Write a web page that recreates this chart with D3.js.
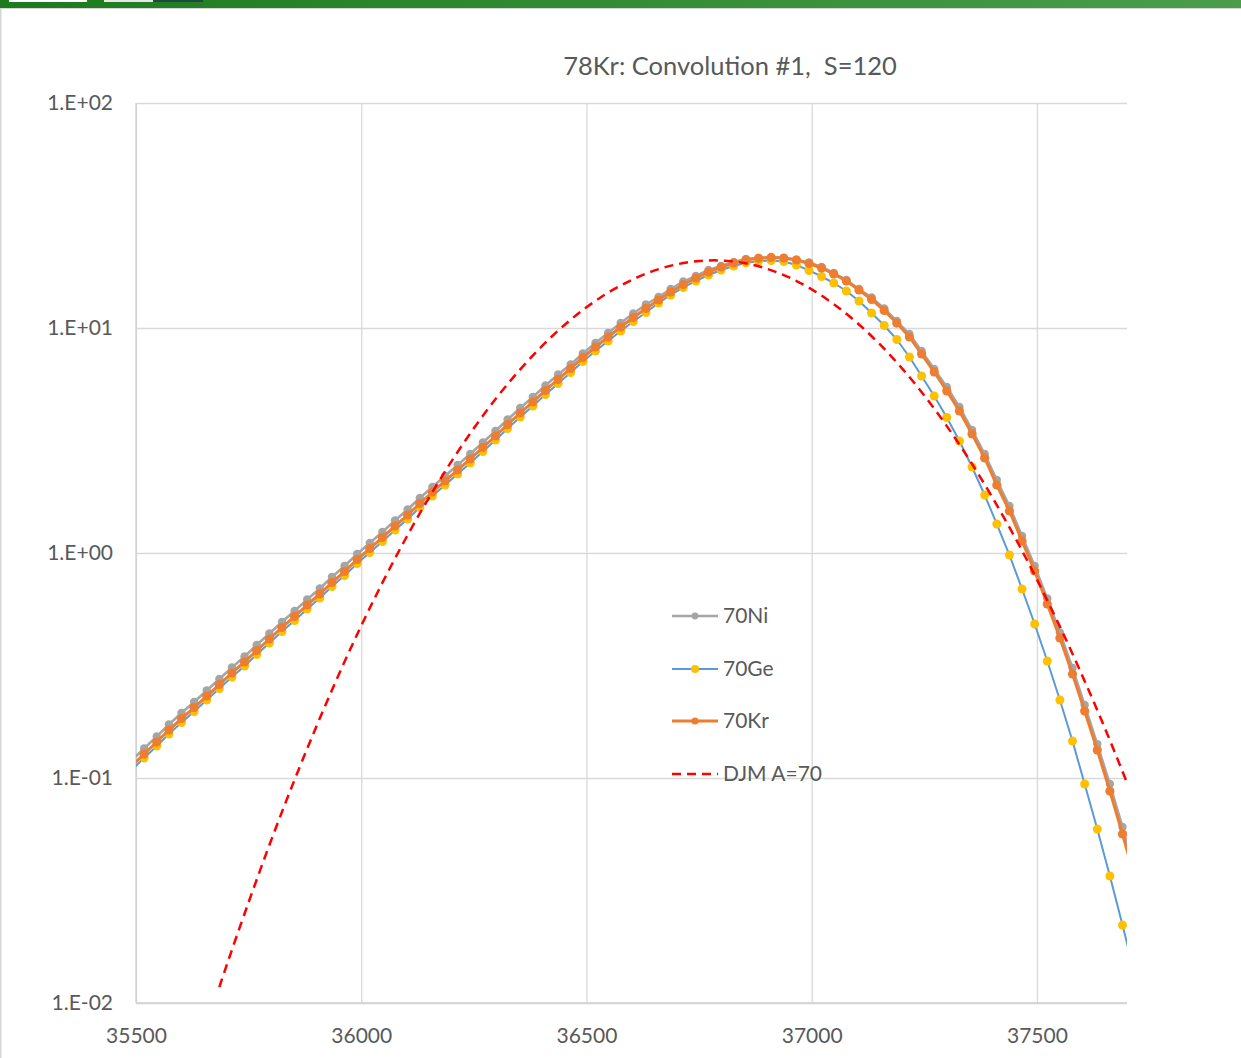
<!DOCTYPE html>
<html>
<head>
<meta charset="utf-8">
<script src="https://cdn.jsdelivr.net/npm/d3@7"></script>
<style>
  html, body { margin: 0; padding: 0; background: #ffffff; }
  svg { display: block; }
  text { font-family: Lato, "Open Sans", sans-serif; fill: #595959; }
</style>
</head>
<body>
<svg id="chart" width="1241" height="1058"></svg>
<script>
// Sampling grid (energy) shared by the three convolution series
const energies = [35490, 35518, 35546, 35573, 35601, 35629, 35657, 35685, 35713, 35741,
  35768, 35796, 35824, 35852, 35880, 35908, 35935, 35963, 35991, 36019,
  36047, 36075, 36103, 36130, 36158, 36186, 36214, 36242, 36270, 36298,
  36325, 36353, 36381, 36409, 36437, 36465, 36492, 36520, 36548, 36576,
  36604, 36632, 36660, 36687, 36715, 36743, 36771, 36799, 36827, 36854,
  36882, 36910, 36938, 36966, 36994, 37022, 37049, 37077, 37105, 37133,
  37161, 37189, 37217, 37244, 37272, 37300, 37328, 37356, 37384, 37411,
  37439, 37467, 37495, 37523, 37551, 37579, 37606, 37634, 37662, 37690,
  37718];

const ni70 = [0.1197, 0.1352, 0.1529, 0.1729, 0.1945, 0.2176, 0.2448, 0.2754, 0.3099, 0.3468,
  0.3901, 0.4388, 0.4936, 0.5525, 0.6215, 0.6954, 0.7823, 0.8754, 0.9900, 1.108,
  1.240, 1.394, 1.561, 1.756, 1.965, 2.199, 2.461, 2.754, 3.099, 3.485,
  3.921, 4.410, 4.936, 5.553, 6.214, 6.885, 7.703, 8.580, 9.503, 10.52,
  11.61, 12.72, 13.73, 14.90, 16.09, 17.03, 18.11, 18.86, 19.65, 20.27,
  20.5, 20.6, 20.5, 20.1, 19.55, 18.67, 17.56, 16.35, 14.90, 13.67,
  12.21, 10.74, 9.403, 7.901, 6.573, 5.468, 4.457, 3.523, 2.755, 2.110,
  1.618, 1.190, 0.8755, 0.6278, 0.4433, 0.3082, 0.2110, 0.1415, 0.0940, 0.0606,
  0.0386];

const ge70 = [0.1086, 0.1227, 0.1387, 0.1569, 0.1764, 0.1975, 0.2221, 0.2499, 0.2812, 0.3147,
  0.3540, 0.3981, 0.4478, 0.5013, 0.5639, 0.6310, 0.7098, 0.7943, 0.8983, 1.005,
  1.125, 1.265, 1.416, 1.594, 1.792, 2.005, 2.244, 2.512, 2.826, 3.179,
  3.576, 4.022, 4.502, 5.065, 5.668, 6.343, 7.097, 7.905, 8.755, 9.696,
  10.69, 11.72, 12.92, 14.02, 15.14, 16.18, 17.21, 18.11, 18.87, 19.46,
  19.85, 19.95, 19.75, 19.05, 18.02, 16.94, 15.85, 14.60, 13.18, 11.66,
  10.26, 8.889, 7.433, 6.119, 4.986, 4.002, 3.147, 2.411, 1.810, 1.345,
  0.9797, 0.6918, 0.4836, 0.3311, 0.2222, 0.1460, 0.0940, 0.0593, 0.0367, 0.0222,
  0.0132];

const kr70 = [0.1131, 0.1278, 0.1445, 0.1634, 0.1838, 0.2057, 0.2314, 0.2603, 0.2929, 0.3278,
  0.3687, 0.4147, 0.4665, 0.5222, 0.5874, 0.6573, 0.7394, 0.8274, 0.9357, 1.047,
  1.172, 1.318, 1.475, 1.660, 1.867, 2.089, 2.338, 2.617, 2.944, 3.311,
  3.725, 4.190, 4.690, 5.276, 5.904, 6.607, 7.393, 8.234, 9.120, 10.10,
  11.14, 12.21, 13.32, 14.45, 15.61, 16.68, 17.74, 18.67, 19.45, 20.06,
  20.41, 20.58, 20.47, 20.06, 19.35, 18.48, 17.38, 16.18, 14.75, 13.39,
  11.96, 10.52, 9.120, 7.663, 6.375, 5.248, 4.277, 3.381, 2.644, 2.005,
  1.537, 1.131, 0.8318, 0.5934, 0.4190, 0.2899, 0.1985, 0.1331, 0.0875, 0.0564,
  0.0356];

// DJM A=70 reference distribution
const djmEnergies = [35685, 35700, 35750, 35800, 35850, 35900, 35950, 36000, 36050, 36100,
  36150, 36200, 36250, 36300, 36350, 36400, 36450, 36500, 36550, 36600,
  36650, 36700, 36750, 36800, 36850, 36900, 36950, 37000, 37050, 37100,
  37150, 37200, 37250, 37300, 37350, 37400, 37450, 37500, 37550, 37600,
  37650, 37700];
const djm70 = [0.01177, 0.01448, 0.02805, 0.05285, 0.0959, 0.1687, 0.2875, 0.4747, 0.7578, 1.172,
  1.754, 2.548, 3.583, 4.885, 6.447, 8.259, 10.26, 12.36, 14.43, 16.34,
  17.98, 19.17, 19.85, 19.95, 19.45, 18.35, 16.77, 14.85, 12.73, 10.58,
  8.515, 6.635, 5.012, 3.664, 2.598, 1.781, 1.185, 0.7624, 0.4757, 0.2872,
  0.1682, 0.0953];

const xTicks = [35500, 36000, 36500, 37000, 37500];
const yTicks = [0.01, 0.1, 1, 10, 100];
const yTickLabels = ["1.E-02", "1.E-01", "1.E+00", "1.E+01", "1.E+02"];
const titleText = "78Kr: Convolution #1,  S=120";

const seriesNames = ["70Ni", "70Ge", "70Kr", "DJM A=70"];

const svg = d3.select("#chart");
const W = 1241, H = 1058;
const plot = { left: 136, right: 1127, top: 103, bottom: 1003 };

// Application frame: green ribbon strip and thin borders
const defs = svg.append("defs");
const grad = defs.append("linearGradient").attr("id", "ribbon").attr("x1", 0).attr("x2", 1);
grad.append("stop").attr("offset", "0%").attr("stop-color", "#1d7a1d");
grad.append("stop").attr("offset", "100%").attr("stop-color", "#4a9e4a");
svg.append("rect").attr("x", 0).attr("y", 0).attr("width", W).attr("height", 8).attr("fill", "url(#ribbon)");
svg.append("rect").attr("x", 9).attr("y", 0).attr("width", 78).attr("height", 2).attr("fill", "#ffffff");
svg.append("rect").attr("x", 104).attr("y", 0).attr("width", 49).attr("height", 2).attr("fill", "#e8e8e8");
svg.append("rect").attr("x", 153).attr("y", 0).attr("width", 50).attr("height", 2).attr("fill", "#1c4a3c");
svg.append("line").attr("x1", 0).attr("x2", W).attr("y1", 8.5).attr("y2", 8.5).attr("stroke", "#d6d6d6").attr("stroke-width", 1);
svg.append("line").attr("x1", 0.75).attr("x2", 0.75).attr("y1", 8).attr("y2", H).attr("stroke", "#d6d6d6").attr("stroke-width", 1.5);

const x = d3.scaleLinear().domain([35500, 37700]).range([plot.left, plot.right]);
const y = d3.scaleLog().domain([0.01, 100]).range([plot.bottom, plot.top]);

// Gridlines
const grid = svg.append("g").attr("class", "grid");
grid.append("g")
  .attr("transform", `translate(0,${plot.bottom})`)
  .call(d3.axisBottom(x).tickValues(xTicks).tickSize(-(plot.bottom - plot.top)).tickFormat(""))
  .call(g => g.select(".domain").remove())
  .call(g => g.selectAll("line").attr("stroke", "#d9d9d9").attr("stroke-width", 1.3));
grid.append("g")
  .attr("transform", `translate(${plot.left},0)`)
  .call(d3.axisLeft(y).tickValues(yTicks).tickSize(-(plot.right - plot.left)).tickFormat(""))
  .call(g => g.select(".domain").remove())
  .call(g => g.selectAll("line").attr("stroke", "#d9d9d9").attr("stroke-width", 1.3));

// Axis lines
svg.append("line").attr("x1", plot.left).attr("x2", plot.left).attr("y1", plot.top).attr("y2", plot.bottom)
  .attr("stroke", "#d0d0d0").attr("stroke-width", 1.3);
svg.append("line").attr("x1", plot.left).attr("x2", plot.right).attr("y1", plot.bottom).attr("y2", plot.bottom)
  .attr("stroke", "#d0d0d0").attr("stroke-width", 1.3);

// Tick labels
const xAxis = svg.append("g")
  .attr("transform", `translate(0,${plot.bottom + 33})`)
  .call(d3.axisBottom(x).tickValues(xTicks).tickSize(0).tickPadding(0).tickFormat(d3.format("d")));
xAxis.select(".domain").remove();
xAxis.selectAll("text").attr("font-size", 21).attr("dy", "0.35em").attr("fill", "#595959")
  .attr("font-family", "Lato, sans-serif");

const yAxis = svg.append("g")
  .attr("transform", `translate(${plot.left - 23},0)`)
  .call(d3.axisLeft(y).tickValues(yTicks).tickSize(0).tickPadding(0)
    .tickFormat((d, i) => yTickLabels[i]));
yAxis.select(".domain").remove();
yAxis.selectAll("text").attr("font-size", 21).attr("fill", "#595959").attr("font-family", "Lato, sans-serif");

// Title (keeps its double space)
svg.append("text").attr("x", 730).attr("y", 66).attr("text-anchor", "middle").attr("dy", "0.35em")
  .attr("font-size", 25.5).style("white-space", "pre").attr("xml:space", "preserve").text(titleText);

// Plot clipping
defs.append("clipPath").attr("id", "plotClip").append("rect")
  .attr("x", plot.left).attr("y", plot.top)
  .attr("width", plot.right - plot.left).attr("height", plot.bottom - plot.top);

const layer = svg.append("g").attr("clip-path", "url(#plotClip)");

const series = [
  { name: seriesNames[0], values: ni70, line: "#a5a5a5", lw: 2.5, marker: "#a5a5a5", r: 4.2, lr: 3.4 },
  { name: seriesNames[1], values: ge70, line: "#5b9bd5", lw: 2, marker: "#ffc000", r: 4.5, lr: 4 },
  { name: seriesNames[2], values: kr70, line: "#ed7d31", lw: 3, marker: "#ed7d31", r: 4.6, lr: 3.6 }
];

const lineGen = d3.line().x(d => x(d[0])).y(d => y(d[1]));

series.forEach(s => {
  const pts = energies.map((e, i) => [e, s.values[i]]);
  layer.append("path").datum(pts)
    .attr("d", lineGen)
    .attr("fill", "none").attr("stroke", s.line).attr("stroke-width", s.lw)
    .attr("stroke-linejoin", "round");
  layer.append("g").selectAll("circle").data(pts).join("circle")
    .attr("cx", d => x(d[0])).attr("cy", d => y(d[1])).attr("r", s.r)
    .attr("fill", s.marker);
});

const djmPts = djmEnergies.map((e, i) => [e, djm70[i]]);
layer.append("path").datum(djmPts)
  .attr("d", d3.line().x(d => x(d[0])).y(d => y(d[1])).curve(d3.curveCatmullRom))
  .attr("fill", "none").attr("stroke", "#ff0000").attr("stroke-width", 2.5)
  .attr("stroke-dasharray", "9,6");

// Legend
const legend = svg.append("g");
const legRows = [616, 669, 721, 774];
const legX0 = 672, legX1 = 718;
series.forEach((s, i) => {
  const g = legend.append("g").attr("transform", `translate(0,${legRows[i]})`);
  g.append("line").attr("x1", legX0).attr("x2", legX1).attr("y1", 0).attr("y2", 0)
    .attr("stroke", s.line).attr("stroke-width", s.lw);
  g.append("circle").attr("cx", (legX0 + legX1) / 2).attr("cy", 0).attr("r", s.lr).attr("fill", s.marker);
  g.append("text").attr("x", 723).attr("y", 0).attr("dy", "0.35em").attr("font-size", 21).text(s.name);
});
const gd = legend.append("g").attr("transform", `translate(0,${legRows[3]})`);
gd.append("line").attr("x1", legX0).attr("x2", legX1).attr("y1", 0).attr("y2", 0)
  .attr("stroke", "#ff0000").attr("stroke-width", 2.5).attr("stroke-dasharray", "9,6");
gd.append("text").attr("x", 723).attr("y", 0).attr("dy", "0.35em").attr("font-size", 21).text(seriesNames[3]);
</script>
</body>
</html>
